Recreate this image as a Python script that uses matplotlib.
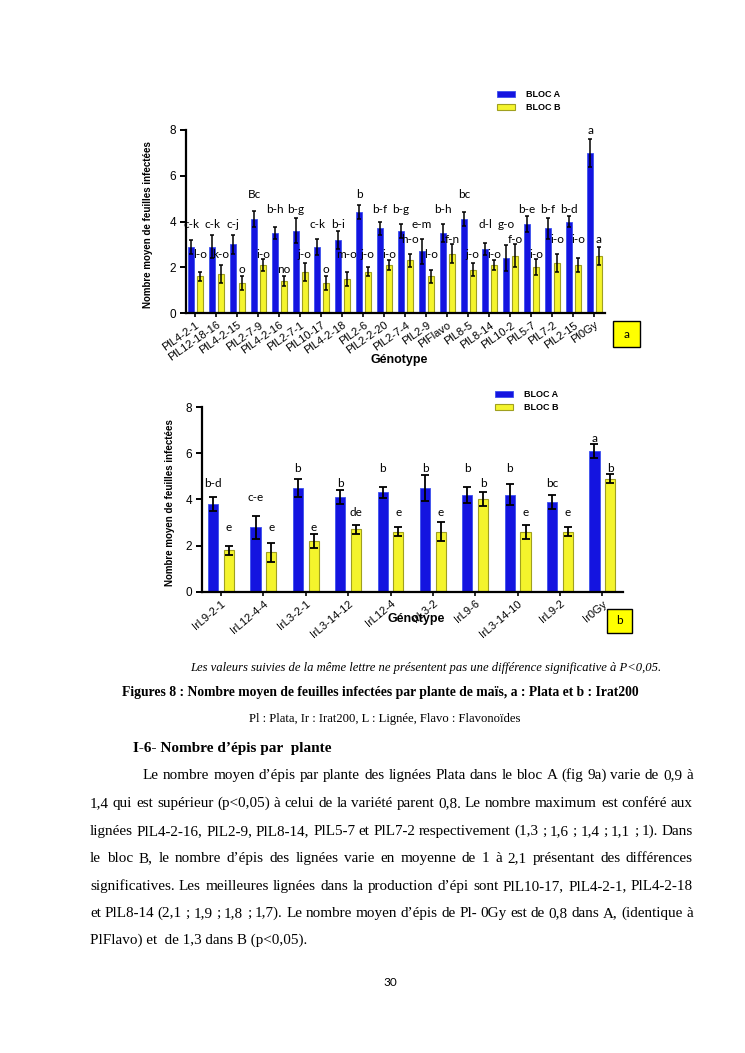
import matplotlib
matplotlib.use("Agg")
import matplotlib.pyplot as plt
import numpy as np
from matplotlib.patches import Rectangle, Patch

# ---------------- data ----------------
a_genotypes = ["PlL4-2-1", "PlL12-18-16", "PlL4-2-15", "PlL2-7-9", "PlL4-2-16", "PlL2-7-1",
               "PlL10-17", "PlL4-2-18", "PlL2-6", "PlL2-2-20", "PlL2-7-4", "PlL2-9",
               "PlFlavo", "PlL8-5", "PlL8-14", "PlL10-2", "PlL5-7", "PlL7-2", "PlL2-15", "Pl0Gy"]
a_bloc_a = [2.9, 2.9, 3.0, 4.1, 3.5, 3.6, 2.9, 3.2, 4.4, 3.7, 3.6, 2.7, 3.5, 4.1, 2.8, 2.4, 3.9, 3.7, 4.0, 7.0]
a_bloc_a_err = [0.3, 0.5, 0.4, 0.35, 0.25, 0.55, 0.35, 0.4, 0.3, 0.3, 0.3, 0.55, 0.4, 0.3, 0.25, 0.56, 0.35, 0.45, 0.25, 0.6]
a_bloc_b = [1.6, 1.7, 1.3, 2.1, 1.4, 1.8, 1.3, 1.5, 1.8, 2.1, 2.3, 1.6, 2.6, 1.9, 2.1, 2.5, 2.0, 2.2, 2.1, 2.5]
a_bloc_b_err = [0.2, 0.4, 0.3, 0.25, 0.2, 0.4, 0.3, 0.3, 0.2, 0.2, 0.3, 0.3, 0.4, 0.3, 0.2, 0.5, 0.35, 0.4, 0.3, 0.4]
a_letters_a = ["c-k", "c-k", "c-j", "Bc", "b-h", "b-g", "c-k", "b-i", "b", "b-f", "b-g", "e-m",
               "b-h", "bc", "d-l", "g-o", "b-e", "b-f", "b-d", "a"]
a_letters_b = ["l-o", "k-o", "o", "i-o", "no", "j-o", "o", "m-o", "j-o", "i-o", "h-o", "l-o",
               "f-n", "j-o", "i-o", "f-o", "i-o", "i-o", "i-o", "a"]

b_genotypes = ["IrL9-2-1", "IrL12-4-4", "IrL3-2-1", "IrL3-14-12", "IrL12-4", "IrL3-2",
               "IrL9-6", "IrL3-14-10", "IrL9-2", "Ir0Gy"]
b_bloc_a = [3.8, 2.8, 4.5, 4.1, 4.3, 4.5, 4.2, 4.2, 3.9, 6.1]
b_bloc_a_err = [0.3, 0.5, 0.4, 0.3, 0.25, 0.55, 0.35, 0.45, 0.3, 0.3]
b_bloc_b = [1.8, 1.7, 2.2, 2.7, 2.6, 2.6, 4.0, 2.6, 2.6, 4.9]
b_bloc_b_err = [0.2, 0.4, 0.3, 0.2, 0.2, 0.4, 0.3, 0.3, 0.2, 0.2]
b_letters_a = ["b-d", "c-e", "b", "b", "b", "b", "b", "b", "bc", "a"]
b_letters_b = ["e", "e", "e", "de", "e", "e", "b", "e", "e", "b"]

y_ticks = [0, 2, 4, 6, 8]
legend_labels = ["BLOC A", "BLOC B"]

# ---------------- style ----------------
W, H = 745, 1053
BLUE = "#1414e0"
BLUE_EDGE = "#3c50ee"
YELLOW = "#f4f42c"
YELLOW_EDGE = "#a0a020"
AXFONT = ["Liberation Sans", "DejaVu Sans"]
LETTERFONT = ["Lato", "DejaVu Sans"]
SERIF = ["Liberation Serif", "DejaVu Serif"]

fig = plt.figure(figsize=(W / 100, H / 100), dpi=100)
fig.patch.set_facecolor("white")


def fx(px):
    return px / W


def fy(py):
    return 1 - py / H


def label_row(top, thr, base, step, ymax=8.0):
    """Letters sit on a regular grid of rows just above each error bar."""
    k = max(0, int(np.ceil((top + thr - base) / step - 1e-9)))
    return min(base + step * k, ymax)


def draw_chart(rect, names, va, vae, vb, vbe, la, lb, off, width, cap, elw,
               xlim_pad, ylabel_x, xlabel_y, legend_xy, grid, tick_fs, rot):
    l, r, b, t = rect
    ax = fig.add_axes([fx(l), fy(b), fx(r) - fx(l), fy(t) - fy(b)])
    x = np.arange(len(names))
    ax.bar(x - off, va, width, color=BLUE, edgecolor=BLUE_EDGE, linewidth=0.6, label=legend_labels[0], zorder=2)
    ax.bar(x + off, vb, width, color=YELLOW, edgecolor=YELLOW_EDGE, linewidth=0.8, label=legend_labels[1], zorder=2)
    ax.errorbar(x - off, va, yerr=vae, fmt="none", ecolor="black", elinewidth=elw, capsize=cap, capthick=elw, zorder=3)
    ax.errorbar(x + off, vb, yerr=vbe, fmt="none", ecolor="black", elinewidth=elw, capsize=cap, capthick=elw, zorder=3)
    base, step, thr_a, thr_b = grid
    for i in range(len(names)):
        ax.text(x[i] - off, label_row(va[i] + vae[i], thr_a, base, step), la[i], ha="center", va="center",
                fontsize=8.5, family=LETTERFONT, clip_on=False)
        ax.text(x[i] + off, label_row(vb[i] + vbe[i], thr_b, base, step), lb[i], ha="center", va="center",
                fontsize=8.5, family=LETTERFONT, clip_on=False)
    ax.set_xlim(-xlim_pad[0], len(names) - 1 + xlim_pad[1])
    ax.set_ylim(0, 8)
    ax.set_yticks(y_ticks)
    ax.set_yticklabels([str(v) for v in y_ticks], fontsize=8.5, family=["Liberation Sans"])
    ax.set_xticks(x)
    ax.set_xticklabels(names, rotation=rot, ha="right", rotation_mode="anchor",
                       fontsize=tick_fs, family=["Liberation Sans"])
    for s in ["top", "right"]:
        ax.spines[s].set_visible(False)
    for s in ["left", "bottom"]:
        ax.spines[s].set_linewidth(1.6)
    ax.tick_params(axis="y", length=4, width=1.4, pad=3)
    ax.tick_params(axis="x", length=3, width=1.2, pad=2)
    ax.set_facecolor("white")
    fig.text(fx(ylabel_x), (fy(b) + fy(t)) / 2 - 0.003, "Nombre moyen de feuilles infectées",
             rotation=90, ha="center", va="center", fontsize=7, fontweight="bold", family=AXFONT)
    fig.text(fx((l + r) / 2 + 4), fy(xlabel_y), "Génotype", ha="center", va="center",
             fontsize=9, fontweight="bold", family=["Liberation Sans"])
    handles = [Patch(facecolor=BLUE, edgecolor=BLUE_EDGE, linewidth=0.6),
               Patch(facecolor=YELLOW, edgecolor=YELLOW_EDGE, linewidth=0.8)]
    fig.legend(handles, legend_labels, loc="upper left", bbox_to_anchor=(fx(legend_xy[0]), fy(legend_xy[1])),
               frameon=False, prop={"family": "Liberation Sans", "weight": "bold", "size": 6.5},
               handlelength=2.0, handleheight=0.65, handletextpad=1.2, labelspacing=0.45, borderpad=0,
               borderaxespad=0)
    return ax


draw_chart((185.6, 605, 313, 130), a_genotypes, a_bloc_a, a_bloc_a_err, a_bloc_b, a_bloc_b_err,
           a_letters_a, a_letters_b, off=0.21, width=0.28, cap=1.6, elw=1.1,
           xlim_pad=(0.47, 0.5), ylabel_x=148, xlabel_y=360, legend_xy=(497, 90),
           grid=(1.92, 0.656, 0.28, 0.2), tick_fs=8, rot=35)

draw_chart((202, 622.7, 591.7, 407), b_genotypes, b_bloc_a, b_bloc_a_err, b_bloc_b, b_bloc_b_err,
           b_letters_a, b_letters_b, off=0.186, width=0.24, cap=3.0, elw=1.3,
           xlim_pad=(0.45, 0.48), ylabel_x=170, xlabel_y=619, legend_xy=(495, 390),
           grid=(2.77, 0.645, 0.2, 0.2), tick_fs=8, rot=40)

# boxes "a" and "b"
for (bx0, by0, bx1, by1, lab) in [(613, 321, 640, 347, "a"), (607, 609, 632, 633, "b")]:
    fig.add_artist(Rectangle((fx(bx0), fy(by1)), fx(bx1) - fx(bx0), fy(by0) - fy(by1),
                             transform=fig.transFigure, facecolor="#ffff00", edgecolor="black", linewidth=1.0))
    fig.text(fx((bx0 + bx1) / 2), fy((by0 + by1) / 2), lab, ha="center", va="center",
             fontsize=8.5, family=LETTERFONT)

# ---------------- captions and text ----------------
fig.text(fx(426), fy(671), "Les valeurs suivies de la même lettre ne présentent pas une différence significative à P<0,05.",
         ha="center", va="baseline", fontsize=9.1, style="italic", family=SERIF)
fig.text(fx(380), fy(696), "Figures 8 : Nombre moyen de feuilles infectées par plante de maïs, a : Plata et b : Irat200",
         ha="center", va="baseline", fontsize=9.8, fontweight="bold", family=SERIF)
fig.text(fx(385), fy(722), "Pl : Plata, Ir : Irat200, L : Lignée, Flavo : Flavonoïdes",
         ha="center", va="baseline", fontsize=9.1, family=SERIF)
fig.text(fx(133), fy(752), "I-6- Nombre d’épis par  plante",
         ha="left", va="baseline", fontsize=11, fontweight="bold", family=SERIF)

para_lines = [
    "Le nombre moyen d’épis par plante des lignées Plata dans le bloc A (fig 9a) varie de 0,9 à",
    "1,4 qui est supérieur (p<0,05) à celui de la variété parent 0,8. Le nombre maximum est conféré aux",
    "lignées PlL4-2-16, PlL2-9, PlL8-14, PlL5-7 et PlL7-2 respectivement (1,3 ; 1,6 ; 1,4 ; 1,1 ; 1). Dans",
    "le bloc B, le nombre d’épis des lignées varie en moyenne de 1 à 2,1 présentant des différences",
    "significatives.  Les meilleures lignées dans la production d’épi sont PlL10-17, PlL4-2-1, PlL4-2-18",
    "et PlL8-14 (2,1 ; 1,9 ; 1,8 ; 1,7). Le nombre moyen d’épis de Pl- 0Gy est de 0,8 dans A, (identique à",
    "PlFlavo) et  de 1,3 dans B (p<0,05).",
]
para_base = [779, 807, 835, 862, 890, 917, 944]
renderer = fig.canvas.get_renderer()
PFS = 10.9
for k, line in enumerate(para_lines):
    x0 = 143 if k == 0 else 90
    x1 = 693
    yb = para_base[k]
    if k == len(para_lines) - 1:
        fig.text(fx(x0), fy(yb), line, ha="left", va="baseline", fontsize=PFS, family=SERIF)
        continue
    words = line.split()
    texts = [fig.text(0, fy(yb), w, ha="left", va="baseline", fontsize=PFS, family=SERIF) for w in words]
    widths = [t.get_window_extent(renderer).width for t in texts]
    gap = (x1 - x0 - sum(widths)) / (len(words) - 1)
    xc = x0
    for t, wdt in zip(texts, widths):
        t.set_x(fx(xc))
        xc += wdt + gap

fig.text(fx(390), fy(983), "30", ha="center", va="center", fontsize=8.5, family=LETTERFONT)

fig.savefig("out.png", dpi=100, facecolor="white")
